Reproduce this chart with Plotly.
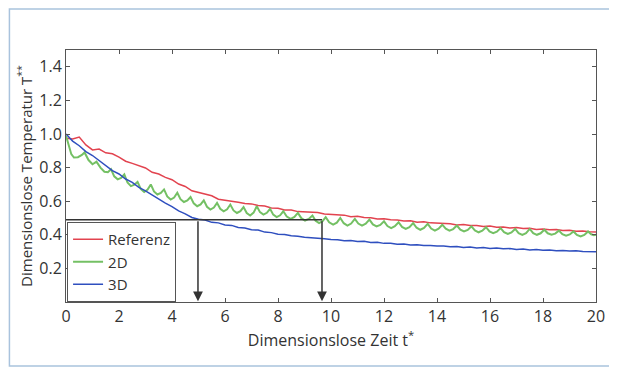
import plotly.graph_objects as go

# ---------------- data ----------------
time_grid = [i * 0.25 for i in range(81)]

referenz = [0.975, 0.97, 0.982, 0.935, 0.905, 0.91, 0.888, 0.882, 0.862, 0.838,
            0.825, 0.81, 0.798, 0.772, 0.762, 0.742, 0.728, 0.702, 0.688, 0.662,
            0.652, 0.638, 0.632, 0.612, 0.607, 0.598, 0.594, 0.586, 0.584, 0.574,
            0.571, 0.56, 0.558, 0.548, 0.547, 0.538, 0.537, 0.532, 0.533, 0.524,
            0.522, 0.518, 0.517, 0.508, 0.51, 0.503, 0.501, 0.494, 0.496, 0.489,
            0.488, 0.482, 0.483, 0.475, 0.477, 0.471, 0.47, 0.466, 0.466, 0.459,
            0.461, 0.455, 0.455, 0.449, 0.452, 0.445, 0.446, 0.441, 0.443, 0.437,
            0.439, 0.432, 0.435, 0.43, 0.431, 0.425, 0.427, 0.421, 0.423, 0.418,
            0.417]

dreiD = [1.0, 0.958, 0.93, 0.895, 0.872, 0.842, 0.812, 0.782, 0.762, 0.732,
         0.712, 0.682, 0.662, 0.636, 0.614, 0.588, 0.568, 0.542, 0.525, 0.503,
         0.492, 0.488, 0.474, 0.471, 0.458, 0.456, 0.444, 0.441, 0.43, 0.428,
         0.416, 0.413, 0.404, 0.402, 0.394, 0.392, 0.385, 0.383, 0.379, 0.376,
         0.372, 0.371, 0.365, 0.366, 0.36, 0.361, 0.354, 0.355, 0.349, 0.35,
         0.344, 0.345, 0.34, 0.341, 0.336, 0.337, 0.333, 0.334, 0.329, 0.331,
         0.325, 0.327, 0.322, 0.324, 0.319, 0.321, 0.317, 0.318, 0.313, 0.315,
         0.31, 0.312, 0.308, 0.31, 0.305, 0.307, 0.303, 0.305, 0.301, 0.302,
         0.299]

zweiD_t = [0, 0.1, 0.2, 0.3, 0.45, 0.6, 0.7, 0.85, 1.0, 1.15, 1.3, 1.45, 1.58,
           1.70, 1.82, 1.95, 2.08,
           2.20, 2.32, 2.45, 2.58,
           2.70, 2.82, 2.95, 3.08,
           3.20, 3.32, 3.45, 3.58,
           3.70, 3.82, 3.95, 4.08,
           4.20, 4.32, 4.45, 4.58,
           4.70, 4.82, 4.95, 5.08,
           5.20, 5.32, 5.45, 5.58,
           5.70, 5.82, 5.95, 6.08,
           6.20, 6.32, 6.45, 6.58,
           6.70, 6.82, 6.95, 7.08,
           7.20, 7.32, 7.45, 7.58,
           7.70, 7.82, 7.95, 8.08,
           8.20, 8.33, 8.48, 8.62,
           8.75, 8.88, 9.02, 9.16,
           9.30, 9.42, 9.55, 9.68,
           9.80, 9.93, 10.08, 10.22,
           10.35, 10.48, 10.62, 10.76,
           10.90, 11.03, 11.17, 11.31,
           11.45, 11.58, 11.72, 11.86,
           12.00, 12.13, 12.27, 12.41,
           12.55, 12.68, 12.82, 12.96,
           13.10, 13.23, 13.37, 13.51,
           13.65, 13.78, 13.92, 14.06,
           14.20, 14.33, 14.47, 14.61,
           14.75, 14.88, 15.02, 15.16,
           15.30, 15.43, 15.57, 15.71,
           15.85, 15.98, 16.12, 16.26,
           16.40, 16.53, 16.67, 16.81,
           16.95, 17.08, 17.22, 17.36,
           17.50, 17.63, 17.77, 17.91,
           18.05, 18.18, 18.32, 18.46,
           18.60, 18.73, 18.87, 19.01,
           19.15, 19.28, 19.42, 19.56,
           19.70, 19.82, 19.92, 20.0]

zweiD = [0.99, 0.93, 0.88, 0.86, 0.862, 0.875, 0.89, 0.845, 0.82, 0.835, 0.80, 0.775, 0.772,
         0.79, 0.748, 0.73, 0.739,
         0.76, 0.711, 0.69, 0.698,
         0.715, 0.673, 0.655, 0.669,
         0.70, 0.658, 0.64, 0.649,
         0.67, 0.628, 0.61, 0.622,
         0.65, 0.612, 0.595, 0.604,
         0.625, 0.587, 0.57, 0.581,
         0.605, 0.567, 0.55, 0.562,
         0.59, 0.555, 0.54, 0.552,
         0.58, 0.545, 0.53, 0.541,
         0.565, 0.53, 0.515, 0.532,
         0.57, 0.535, 0.52, 0.531,
         0.555, 0.52, 0.505, 0.516,
         0.54, 0.509, 0.495, 0.506,
         0.53, 0.499, 0.485, 0.494,
         0.515, 0.484, 0.47, 0.481,
         0.505, 0.474, 0.46, 0.472,
         0.50, 0.469, 0.455, 0.467,
         0.495, 0.467, 0.455, 0.466,
         0.49, 0.462, 0.45, 0.459,
         0.48, 0.452, 0.44, 0.451,
         0.475, 0.447, 0.435, 0.446,
         0.47, 0.442, 0.43, 0.441,
         0.465, 0.437, 0.425, 0.436,
         0.46, 0.436, 0.425, 0.434,
         0.455, 0.431, 0.42, 0.429,
         0.45, 0.426, 0.415, 0.424,
         0.445, 0.42, 0.41, 0.419,
         0.44, 0.416, 0.405, 0.414,
         0.435, 0.41, 0.40, 0.41,
         0.435, 0.41, 0.40, 0.409,
         0.43, 0.409, 0.40, 0.407,
         0.425, 0.404, 0.395, 0.402,
         0.42, 0.399, 0.39, 0.399,
         0.42, 0.403, 0.398, 0.40]

x_ticks = [0, 2, 4, 6, 8, 10, 12, 14, 16, 18, 20]
y_ticks = [0.2, 0.4, 0.6, 0.8, 1.0, 1.2, 1.4]

level_T = 0.49          # horizontal reference level
t_cross_3D = 4.98       # time where 3D reaches the level
t_cross_2D = 9.66       # time where 2D reaches the level

# ---------------- figure ----------------
FONT = "Open Sans, Noto Sans, sans-serif"
fig = go.Figure()
fig.add_trace(go.Scatter(x=time_grid, y=referenz, mode="lines", name="Referenz",
                         line=dict(color="#e2434f", width=1.5)))
fig.add_trace(go.Scatter(x=zweiD_t, y=zweiD, mode="lines", name="2D",
                         line=dict(color="#74c064", width=2)))
fig.add_trace(go.Scatter(x=time_grid, y=dreiD, mode="lines", name="3D",
                         line=dict(color="#2f4fbf", width=1.5)))

# horizontal level line
fig.add_shape(type="line", xref="x", yref="y", x0=0, x1=t_cross_2D, y0=level_T, y1=level_T,
              line=dict(color="#333333", width=1.5))
# vertical arrows
for tc in (t_cross_3D, t_cross_2D):
    fig.add_annotation(x=tc, y=0.005, ax=tc, ay=level_T, xref="x", yref="y",
                       axref="x", ayref="y", text="", showarrow=True,
                       arrowhead=2, arrowsize=1.3, arrowwidth=1.5, arrowcolor="#333333")

# outer scan frame (figure sits 8px inside the page)
L, R, T, B = 58, 17, 42, 76
W, H = 609, 370
pw, ph = W - L - R, H - T - B
fig.add_shape(type="rect", xref="paper", yref="paper",
              x0=(1 - L) / pw, x1=(W + 20 - L) / pw,
              y0=-(358 - (H - B)) / ph,
              y1=(H - B - 1) / ph,
              line=dict(color="#a9c3dd", width=1.5), layer="below")

axis_common = dict(showline=True, linecolor="#555555", linewidth=1, mirror="ticks",
                   ticks="inside", ticklen=4, tickcolor="#555555", showgrid=False,
                   zeroline=False, tickfont=dict(family=FONT, size=16, color="#333333"))

fig.update_layout(
    width=W, height=H,
    margin=dict(l=L, r=R, t=T, b=B),
    paper_bgcolor="white", plot_bgcolor="white",
    font=dict(family=FONT, color="#333333"),
    xaxis=dict(range=[0, 20], tickvals=x_ticks,
               title=dict(text="Dimensionslose Zeit t<sup>*</sup>", font=dict(size=16), standoff=4),
               **axis_common),
    yaxis=dict(range=[0, 1.5], tickvals=y_ticks, tickformat=".1f",
               title=dict(text="Dimensionslose Temperatur T<sup>**</sup>", font=dict(size=15), standoff=3),
               **axis_common),
    legend=dict(x=0.002, y=0.0, xanchor="left", yanchor="bottom",
                bgcolor="white", bordercolor="#555555", borderwidth=1,
                font=dict(family=FONT, size=15, color="#333333"),
                tracegroupgap=0, itemwidth=30),
    showlegend=True,
)

fig.write_html("out.html")
